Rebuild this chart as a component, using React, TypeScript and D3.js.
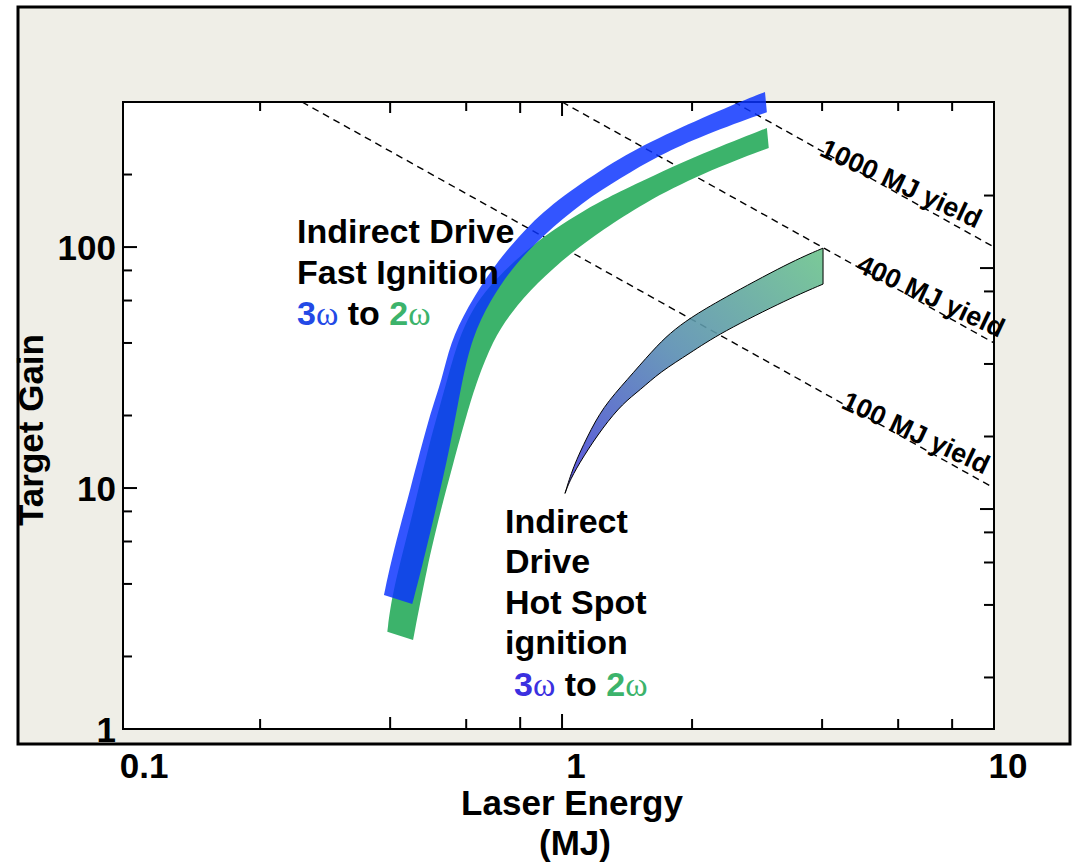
import React from "react";
import * as d3 from "d3";

const WIDTH = 1074;
const HEIGHT = 863;

// Axis definitions
const xDomain = [0.0963, 10];
const yDomain = [1, 400];
const xMinorTicks = [0.2, 0.4, 0.6, 0.8, 2, 4, 6, 8];
const xMajorTicks = [1];
const xTickLabels = [0.1, 1, 10];
const yMinorTicksLeft = [2, 4, 6, 8, 20, 40, 60, 80, 200];
const yMinorTicksRight = [2, 4, 6, 8, 20, 40, 80, 200];
const yMajorTicks = [10, 100];
const yTickLabels = [1, 10, 100];

// Constant-yield contours: gain = yield / energy
const yieldLevels = [100, 400, 1000];
const yieldLabelEnergy = [6.6, 7.15, 6.1];

// Bands, as [laser energy (MJ), target gain]
const fast3wUpper = [
  [0.387, 3.6], [0.406, 5.4], [0.445, 9.8], [0.495, 20.5], [0.527, 28],
  [0.551, 40], [0.603, 56], [0.692, 83], [0.843, 126], [1.027, 168],
  [1.362, 236], [1.778, 300], [2.54, 396], [2.95, 440],
];
const fast3wLower = [
  [2.98, 363], [2.12, 291], [1.686, 241], [1.362, 193], [1.118, 154],
  [0.904, 112], [0.77, 83], [0.681, 60], [0.619, 42], [0.587, 28],
  [0.551, 14.8], [0.508, 7.9], [0.474, 4.7], [0.45, 3.3],
];
const fast2wUpper = [
  [0.394, 2.53], [0.404, 3.67], [0.452, 7.9], [0.49, 14.8], [0.542, 28],
  [0.574, 41], [0.619, 55], [0.681, 69.5], [0.778, 88], [0.913, 112],
  [1.083, 136], [1.244, 157], [1.491, 184], [2.12, 246], [2.98, 312],
];
const fast2wLower = [
  [3.01, 258], [2.12, 203], [1.54, 152], [1.244, 118], [1.043, 94],
  [0.875, 71], [0.758, 53], [0.692, 41], [0.636, 28], [0.603, 20.5],
  [0.56, 12.7], [0.522, 7.9], [0.487, 4.7], [0.452, 2.34],
];
const hotSpotUpper = [
  [1.016, 9.5], [1.06, 12.2], [1.143, 16.3], [1.244, 21.7], [1.414, 28.1],
  [1.624, 37.4], [1.778, 44], [1.979, 50.8], [2.322, 60.3], [3.372, 86.6],
  [4.02, 99],
];
const hotSpotLower = [
  [4.02, 70.2], [3.372, 61.4], [2.322, 44], [1.979, 36.3], [1.686, 30.3],
  [1.516, 25.5], [1.384, 22.5], [1.244, 17.9], [1.118, 13.45], [1.043, 10.8],
  [1.016, 9.5],
];

const SANS = "'Liberation Sans', Arial, Helvetica, sans-serif";
const SERIF = "'Liberation Serif', 'DejaVu Serif', serif";
const BLUE_TEXT = "#2349E6";
const VIOLET_TEXT = "#3B30E0";
const GREEN = "#3CB36B";

const x = d3.scaleLog().domain(xDomain).range([123, 994]);
const y = d3.scaleLog().domain(yDomain).range([729, 102]);

const edge = d3
  .line<number[]>()
  .x((d) => x(d[0]))
  .y((d) => y(d[1]))
  .curve(d3.curveBasis);

function bandPath(upper: number[][], lower: number[][]) {
  const a = edge(upper) || "";
  const b = (edge(lower) || "").replace(/^M/, "L");
  return a + b + "Z";
}

const straight = d3
  .line<number[]>()
  .x((d) => x(d[0]))
  .y((d) => y(d[1]));

export default function App() {
  const left = x.range()[0];
  const right = x.range()[1];
  const top = y.range()[1];
  const bottom = y.range()[0];
  const rightTickShift = 21;

  return (
    <svg
      width={WIDTH}
      height={HEIGHT}
      style={{ position: "absolute", left: 0, top: 0, display: "block", background: "#fff" }}
    >
      <defs>
        <linearGradient id="hotSpotFill" x1="0" y1="1" x2="1" y2="0">
          <stop offset="0%" stopColor="#4841DC" />
          <stop offset="50%" stopColor="#5A8EB2" />
          <stop offset="100%" stopColor="#6CC48C" />
        </linearGradient>
      </defs>

      {/* outer panel */}
      <rect x={18} y={7} width={1052} height={737} fill="#EFEEE7" stroke="#000" strokeWidth={3} />

      {/* plot area */}
      <rect x={left} y={top} width={right - left} height={bottom - top} fill="#fff" stroke="#000" strokeWidth={2} />

      {/* bottom and top ticks */}
      {[...xMinorTicks, ...xMajorTicks].map((v) => {
        const len = xMajorTicks.includes(v) ? 15 : v === 0.4 || v === 0.8 ? 12 : 10;
        return (
          <g key={"xt" + v} stroke="#000" strokeWidth={2}>
            <line x1={x(v)} x2={x(v)} y1={bottom} y2={bottom - len} />
            <line x1={x(v)} x2={x(v)} y1={top} y2={top + len - 1} />
          </g>
        );
      })}

      {/* left ticks */}
      {[...yMinorTicksLeft, ...yMajorTicks].map((v) => {
        const len = yMajorTicks.includes(v) ? 14 : 9;
        return <line key={"yl" + v} x1={left} x2={left + len} y1={y(v)} y2={y(v)} stroke="#000" strokeWidth={2} />;
      })}

      {/* right ticks */}
      {[...yMinorTicksRight, ...yMajorTicks].map((v) => {
        const len = yMajorTicks.includes(v) ? 14 : 10;
        const yy = y(v) + rightTickShift;
        return <line key={"yr" + v} x1={right} x2={right - len} y1={yy} y2={yy} stroke="#000" strokeWidth={2} />;
      })}

      {/* constant yield lines */}
      {yieldLevels.map((Y) => {
        const e0 = Math.max(xDomain[0], Y / yDomain[1]);
        const e1 = Math.min(xDomain[1], Y / yDomain[0]);
        return (
          <path
            key={"yl" + Y}
            d={straight([[e0, Y / e0], [e1, Y / e1]]) || ""}
            fill="none"
            stroke="#000"
            strokeWidth={1.4}
            strokeDasharray="7,5"
          />
        );
      })}

      {/* bands */}
      <path d={bandPath(fast2wUpper, fast2wLower)} fill={GREEN} />
      <path d={bandPath(fast3wUpper, fast3wLower)} fill="rgb(10,50,255)" fillOpacity={0.83} />
      <path
        d={bandPath(hotSpotUpper, hotSpotLower)}
        fill="url(#hotSpotFill)"
        fillOpacity={0.9}
        stroke="#000"
        strokeWidth={1}
      />

      {/* yield labels */}
      {yieldLevels.map((Y, i) => {
        const e = yieldLabelEnergy[i];
        return (
          <text
            key={"ylab" + Y}
            transform={`translate(${x(e)},${y(Y / e) - 12}) rotate(25)`}
            textAnchor="middle"
            dy="0.35em"
            fontFamily={SANS}
            fontWeight="bold"
            fontSize={27}
            fill="#000"
          >
            {Y} MJ yield
          </text>
        );
      })}

      {/* tick labels */}
      {yTickLabels.map((v) => (
        <text
          key={"ytl" + v}
          x={116}
          y={y(v)}
          dy="0.36em"
          textAnchor="end"
          fontFamily={SANS}
          fontWeight="bold"
          fontSize={35}
        >
          {v}
        </text>
      ))}
      {xTickLabels.map((v) => (
        <text
          key={"xtl" + v}
          x={x(v) + 14}
          y={778}
          textAnchor="middle"
          fontFamily={SANS}
          fontWeight="bold"
          fontSize={35}
        >
          {v}
        </text>
      ))}

      {/* axis titles */}
      <text x={572} y={815} textAnchor="middle" fontFamily={SANS} fontWeight="bold" fontSize={35}>
        Laser Energy
      </text>
      <text x={575} y={855} textAnchor="middle" fontFamily={SANS} fontWeight="bold" fontSize={35}>
        (MJ)
      </text>
      <text
        transform="translate(43,430) rotate(-90)"
        textAnchor="middle"
        fontFamily={SANS}
        fontWeight="bold"
        fontSize={35}
      >
        Target Gain
      </text>

      {/* fast ignition annotation */}
      <g fontFamily={SANS} fontWeight="bold" fontSize={34}>
        <text x={297} y={243}>Indirect Drive</text>
        <text x={297} y={284}>Fast Ignition</text>
        <text x={297} y={325}>
          <tspan fill={BLUE_TEXT}>3</tspan>
          <tspan fill={BLUE_TEXT} fontFamily={SERIF} fontWeight="normal">ω</tspan>
          <tspan> to </tspan>
          <tspan fill={GREEN}>2</tspan>
          <tspan fill={GREEN} fontFamily={SERIF} fontWeight="normal">ω</tspan>
        </text>
      </g>

      {/* hot spot annotation */}
      <g fontFamily={SANS} fontWeight="bold" fontSize={34}>
        <text x={505} y={533}>Indirect</text>
        <text x={505} y={573}>Drive</text>
        <text x={505} y={614}>Hot Spot</text>
        <text x={505} y={654}>ignition</text>
        <text x={514} y={696}>
          <tspan fill={VIOLET_TEXT}>3</tspan>
          <tspan fill={VIOLET_TEXT} fontFamily={SERIF} fontWeight="normal">ω</tspan>
          <tspan> to </tspan>
          <tspan fill={GREEN}>2</tspan>
          <tspan fill={GREEN} fontFamily={SERIF} fontWeight="normal">ω</tspan>
        </text>
      </g>
    </svg>
  );
}
